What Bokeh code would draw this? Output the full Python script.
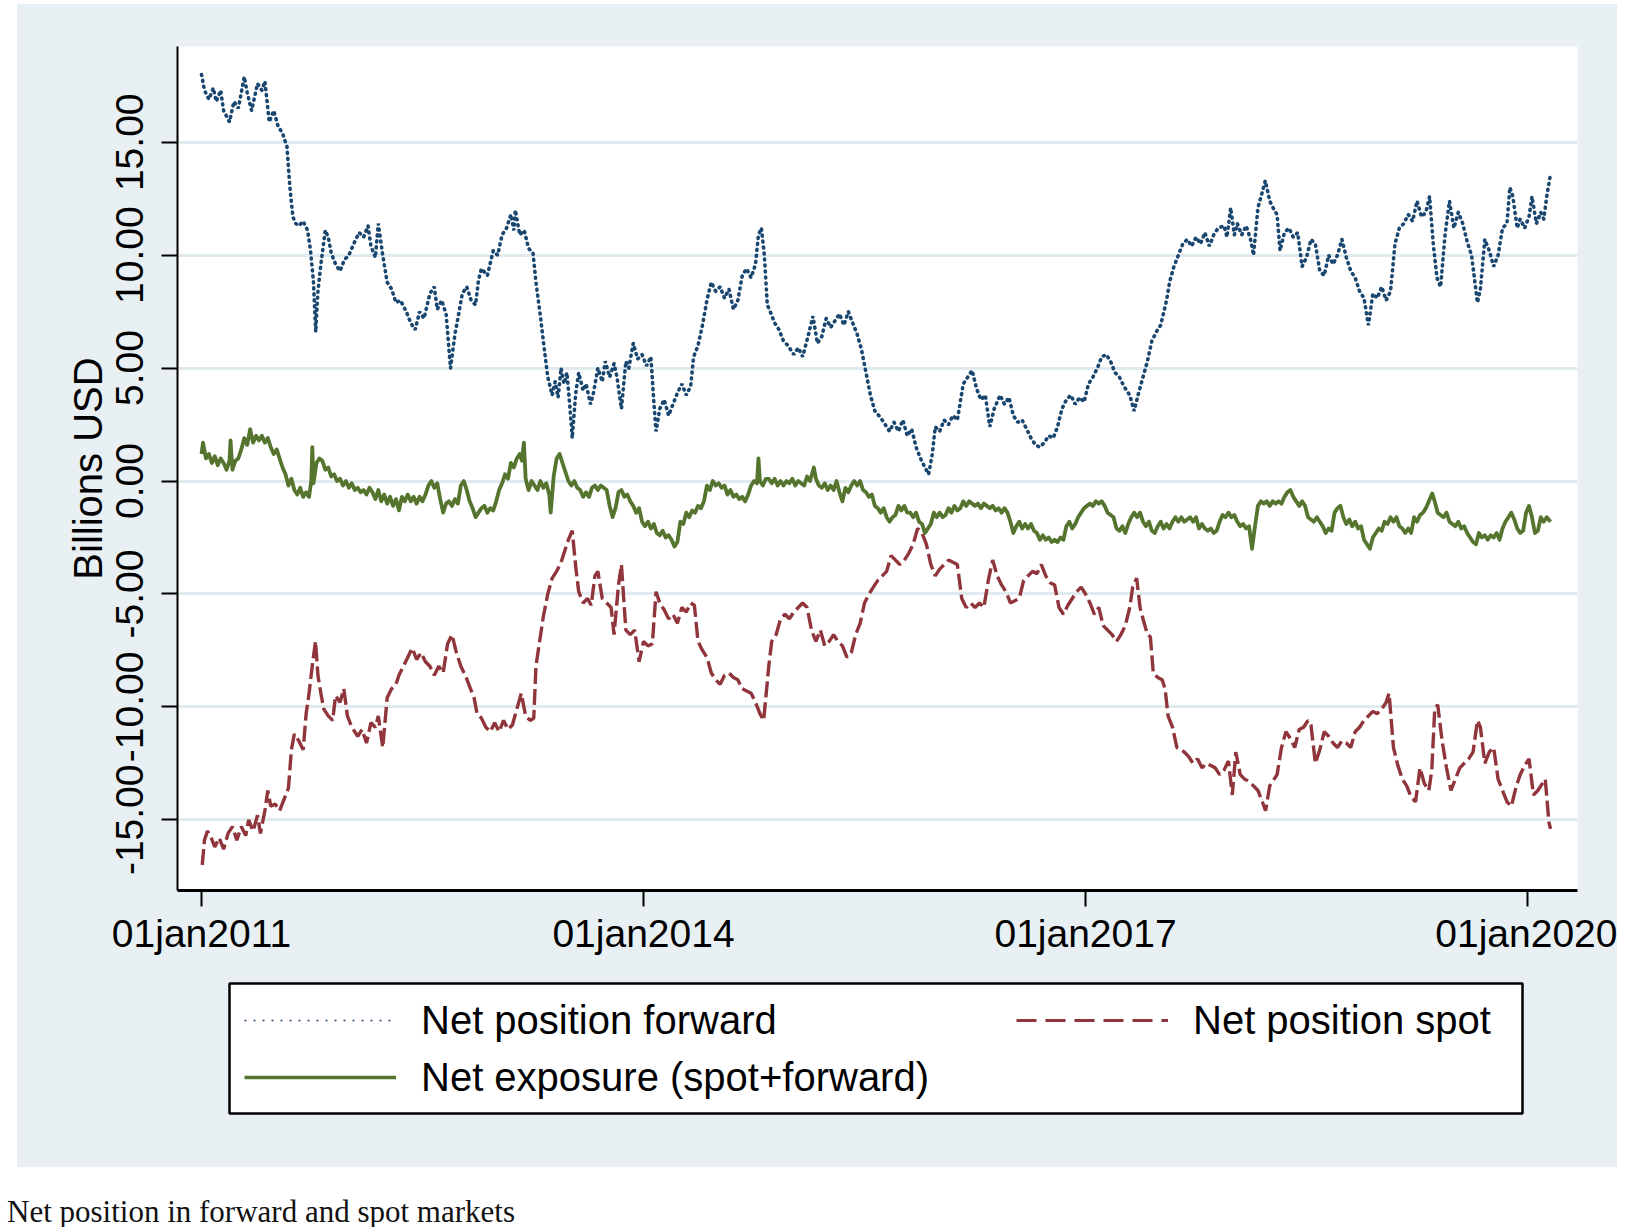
from bokeh.plotting import figure
from bokeh.models import Range1d, FixedTicker, ColumnDataSource, Legend, LegendItem, BoxAnnotation, Div
from bokeh.layouts import column
from bokeh.embed import file_html
from bokeh.resources import INLINE

# ---------------- data (time in decimal years) ----------------
fwd_t = [
    2011.00, 2011.02, 2011.05, 2011.08, 2011.10, 2011.13, 2011.15, 2011.19, 2011.22, 2011.25,
    2011.29, 2011.31, 2011.34, 2011.38, 2011.41, 2011.43, 2011.46, 2011.49, 2011.52, 2011.55,
    2011.58, 2011.60, 2011.62, 2011.64, 2011.66, 2011.69, 2011.72, 2011.74, 2011.76, 2011.775,
    2011.79, 2011.81, 2011.84, 2011.86, 2011.88, 2011.91, 2011.94, 2011.97,
    2012.00, 2012.04, 2012.07, 2012.10, 2012.13, 2012.15, 2012.18, 2012.20, 2012.23, 2012.26,
    2012.29, 2012.32, 2012.35, 2012.39, 2012.42, 2012.45, 2012.48, 2012.51, 2012.55, 2012.58,
    2012.60, 2012.63, 2012.66, 2012.69, 2012.72, 2012.74, 2012.77, 2012.80, 2012.83, 2012.86,
    2012.88, 2012.90, 2012.94, 2012.98,
    2013.01, 2013.04, 2013.07, 2013.10, 2013.12, 2013.13, 2013.16, 2013.19, 2013.22, 2013.25,
    2013.27, 2013.30, 2013.32, 2013.35, 2013.38, 2013.40, 2013.42, 2013.44, 2013.46, 2013.48,
    2013.50, 2013.516, 2013.54, 2013.56, 2013.59, 2013.61, 2013.64, 2013.66, 2013.69, 2013.72,
    2013.74, 2013.77, 2013.80, 2013.82, 2013.85, 2013.88, 2013.90, 2013.93, 2013.96, 2013.99,
    2014.02, 2014.05, 2014.07, 2014.085, 2014.11, 2014.14, 2014.17, 2014.20, 2014.23, 2014.26,
    2014.29, 2014.32, 2014.34, 2014.37, 2014.40, 2014.43, 2014.46, 2014.49, 2014.52, 2014.55,
    2014.58, 2014.61, 2014.64, 2014.67, 2014.70, 2014.73, 2014.76, 2014.78, 2014.80, 2014.82,
    2014.84, 2014.86, 2014.89, 2014.92, 2014.95, 2014.98,
    2015.02, 2015.05, 2015.08, 2015.12, 2015.15, 2015.18, 2015.21, 2015.24, 2015.27, 2015.30,
    2015.33, 2015.36, 2015.39, 2015.42, 2015.45, 2015.48, 2015.51, 2015.54, 2015.57, 2015.61,
    2015.64, 2015.67, 2015.70, 2015.73, 2015.76, 2015.79, 2015.82, 2015.85, 2015.88, 2015.91,
    2015.935, 2015.96, 2015.98,
    2016.01, 2016.04, 2016.07, 2016.10, 2016.13, 2016.17, 2016.20, 2016.23, 2016.26, 2016.29,
    2016.32, 2016.35, 2016.38, 2016.42, 2016.45, 2016.48, 2016.51, 2016.54, 2016.57, 2016.60,
    2016.63, 2016.66, 2016.69, 2016.72, 2016.75, 2016.78, 2016.81, 2016.84, 2016.87, 2016.90,
    2016.93, 2016.96, 2016.99,
    2017.02, 2017.05, 2017.08, 2017.11, 2017.14, 2017.17, 2017.20, 2017.23, 2017.26, 2017.30,
    2017.33, 2017.36, 2017.39, 2017.42, 2017.45, 2017.48, 2017.51, 2017.55, 2017.57, 2017.60,
    2017.63, 2017.66, 2017.69, 2017.72, 2017.75, 2017.78, 2017.81, 2017.84, 2017.87, 2017.90,
    2017.94, 2017.96, 2017.985,
    2018.01, 2018.03, 2018.06, 2018.09, 2018.12, 2018.14, 2018.17, 2018.20, 2018.22, 2018.25,
    2018.28, 2018.30, 2018.32, 2018.35, 2018.38, 2018.41, 2018.44, 2018.47, 2018.50, 2018.53,
    2018.56, 2018.59, 2018.62, 2018.65, 2018.68, 2018.71, 2018.74, 2018.77, 2018.80, 2018.83,
    2018.86, 2018.89, 2018.92, 2018.95, 2018.98,
    2019.01, 2019.04, 2019.07, 2019.10, 2019.13, 2019.16, 2019.19, 2019.22, 2019.25, 2019.28,
    2019.31, 2019.335, 2019.36, 2019.385, 2019.41, 2019.44, 2019.47, 2019.50, 2019.53, 2019.56,
    2019.59, 2019.62, 2019.66, 2019.68, 2019.71, 2019.74, 2019.77, 2019.80, 2019.83, 2019.86,
    2019.88, 2019.90, 2019.93, 2019.95, 2019.98,
    2020.01, 2020.03, 2020.06, 2020.09, 2020.11, 2020.13, 2020.156,
]
fwd_v = [
    18.0, 17.3, 16.9, 17.4, 16.8, 17.3, 16.4, 15.9, 16.8, 16.5,
    17.9, 17.2, 16.4, 17.6, 17.3, 17.7, 15.9, 16.4, 15.7, 15.4,
    14.8, 13.0, 11.7, 11.4, 11.3, 11.5, 11.1, 10.2, 8.8, 6.6,
    8.4, 9.6, 11.1, 10.8, 10.1, 9.6, 9.3, 9.8,
    10.0, 10.6, 11.0, 10.8, 11.3, 10.4, 9.9, 11.4, 10.0, 8.8,
    8.5, 7.9, 8.0, 7.5, 7.0, 6.7, 7.5, 7.2, 8.3, 8.6,
    7.6, 8.0, 7.4, 5.0, 6.5, 7.2, 8.3, 8.6, 8.0, 7.8,
    8.9, 9.4, 9.1, 10.2,
    10.0, 10.9, 11.2, 11.8, 11.1, 12.0, 10.9, 11.1, 10.3, 10.1,
    8.8, 7.3, 6.2, 4.6, 3.8, 4.4, 3.7, 5.0, 4.3, 4.8,
    3.3, 1.9, 3.9, 4.8, 4.0, 4.3, 3.4, 3.9, 5.0, 4.4,
    5.3, 4.6, 5.2, 4.6, 3.2, 5.3, 5.0, 6.1, 5.4, 5.6,
    5.1, 5.5, 3.5, 2.2, 3.2, 3.6, 2.9, 3.4, 3.9, 4.3,
    3.8, 4.2, 5.5, 6.0, 6.9, 8.0, 8.8, 8.4, 8.6, 8.1,
    8.5, 7.6, 8.0, 9.1, 9.4, 9.0, 9.6, 10.9, 11.2, 10.0,
    7.8, 7.5, 7.0, 6.7, 6.2, 6.0,
    5.6, 5.9, 5.5, 6.5, 7.3, 6.1, 6.4, 7.2, 6.8, 7.1,
    7.4, 6.9, 7.5, 7.0, 6.5, 5.8, 4.8, 3.8, 3.1, 2.8,
    2.5, 2.2, 2.6, 2.2, 2.7, 2.0, 2.3, 1.5, 1.0, 0.6,
    0.3, 1.2, 2.4,
    2.2, 2.7, 2.5, 2.9, 2.7, 4.3, 4.6, 4.9, 4.1, 3.6,
    3.8, 2.4, 3.2, 3.8, 3.4, 3.7, 2.9, 2.6, 2.7, 2.3,
    1.9, 1.6, 1.5, 1.7, 2.0, 1.9, 2.4, 3.2, 3.6, 3.8,
    3.4, 3.7, 3.5,
    4.3, 4.6, 5.0, 5.5, 5.6, 5.3, 4.8, 4.6, 4.2, 3.8,
    3.1, 3.9, 4.6, 5.3, 6.2, 6.6, 6.9, 8.0, 8.8, 9.5,
    10.0, 10.5, 10.7, 10.4, 10.8, 10.5, 11.0, 10.4, 10.9, 11.2,
    11.3, 10.8, 12.1,
    10.9, 11.4, 10.9, 11.3, 10.7, 10.0, 12.1, 12.8, 13.3, 12.4,
    12.0, 11.8, 10.2, 11.0, 11.2, 10.8, 11.0, 9.5, 9.9, 10.7,
    10.5, 9.3, 9.1, 10.0, 9.6, 10.0, 10.7, 9.9, 9.3, 9.0,
    8.4, 8.1, 6.9, 8.3, 8.1,
    8.6, 8.0, 8.4, 10.5, 11.2, 11.4, 11.8, 11.5, 12.4, 11.7,
    11.9, 12.6, 10.5, 9.0, 8.6, 10.9, 12.4, 11.2, 11.9, 11.4,
    10.6, 10.0, 7.9, 8.5, 10.7, 10.2, 9.5, 10.0, 11.2, 11.4,
    13.0, 12.6, 11.2, 11.6, 11.2,
    11.7, 12.6, 11.4, 11.9, 11.6, 12.6, 13.6,
]

spot_t = [
    2011.005, 2011.02, 2011.04, 2011.06, 2011.09, 2011.12, 2011.15, 2011.18, 2011.21, 2011.24,
    2011.27, 2011.30, 2011.32, 2011.35, 2011.38, 2011.40, 2011.43, 2011.45, 2011.47, 2011.50,
    2011.53, 2011.56, 2011.59, 2011.61, 2011.63, 2011.66, 2011.69, 2011.71, 2011.73, 2011.755,
    2011.774, 2011.79, 2011.81, 2011.83, 2011.86, 2011.89, 2011.91, 2011.94, 2011.966, 2011.99,
    2012.02, 2012.06, 2012.09, 2012.12, 2012.15, 2012.18, 2012.20, 2012.23, 2012.26, 2012.29,
    2012.32, 2012.34, 2012.37, 2012.40, 2012.43, 2012.46, 2012.49, 2012.52, 2012.55, 2012.58,
    2012.61, 2012.64, 2012.67, 2012.70, 2012.73, 2012.76, 2012.79, 2012.82, 2012.85, 2012.87,
    2012.90, 2012.93, 2012.96, 2012.99,
    2013.02, 2013.05, 2013.08, 2013.11, 2013.14, 2013.17, 2013.20, 2013.23, 2013.255, 2013.27,
    2013.29, 2013.32, 2013.35, 2013.38, 2013.41, 2013.44, 2013.47, 2013.49, 2013.516, 2013.54,
    2013.56, 2013.59, 2013.62, 2013.645, 2013.67, 2013.69, 2013.72, 2013.75, 2013.78, 2013.80,
    2013.83, 2013.85, 2013.88, 2013.91, 2013.94, 2013.97,
    2014.00, 2014.03, 2014.06, 2014.085, 2014.11, 2014.14, 2014.17, 2014.20, 2014.23, 2014.26,
    2014.29, 2014.32, 2014.345, 2014.37, 2014.40, 2014.43, 2014.46, 2014.49, 2014.52, 2014.55,
    2014.58, 2014.61, 2014.64, 2014.67, 2014.70, 2014.73, 2014.76, 2014.79, 2014.815, 2014.83,
    2014.85, 2014.87, 2014.90, 2014.93, 2014.96, 2014.99,
    2015.02, 2015.05, 2015.08, 2015.11, 2015.14, 2015.17, 2015.20, 2015.23, 2015.26, 2015.29,
    2015.32, 2015.35, 2015.38, 2015.41, 2015.44, 2015.47, 2015.50, 2015.53, 2015.56, 2015.59,
    2015.62, 2015.65, 2015.68, 2015.71, 2015.74, 2015.77, 2015.80, 2015.83, 2015.86, 2015.89,
    2015.92, 2015.95, 2015.98,
    2016.01, 2016.04, 2016.07, 2016.10, 2016.13, 2016.16, 2016.19, 2016.22, 2016.25, 2016.28,
    2016.31, 2016.34, 2016.37, 2016.40, 2016.43, 2016.46, 2016.49, 2016.52, 2016.55, 2016.58,
    2016.61, 2016.64, 2016.67, 2016.70, 2016.73, 2016.76, 2016.79, 2016.82, 2016.85, 2016.88,
    2016.91, 2016.94, 2016.97,
    2017.00, 2017.03, 2017.06, 2017.09, 2017.12, 2017.15, 2017.18, 2017.21, 2017.24, 2017.27,
    2017.30, 2017.32, 2017.347, 2017.37, 2017.39, 2017.42, 2017.44, 2017.46, 2017.49, 2017.52,
    2017.54, 2017.56, 2017.59, 2017.62, 2017.65, 2017.67, 2017.70, 2017.73, 2017.76, 2017.79,
    2017.82, 2017.85, 2017.88, 2017.91, 2017.94, 2017.97, 2017.996,
    2018.02, 2018.05, 2018.08, 2018.11, 2018.14, 2018.17, 2018.20, 2018.222, 2018.25, 2018.28,
    2018.30, 2018.33, 2018.36, 2018.39, 2018.42, 2018.45, 2018.48, 2018.51, 2018.53, 2018.56,
    2018.59, 2018.62, 2018.65, 2018.68, 2018.71, 2018.74, 2018.77, 2018.80, 2018.83, 2018.86,
    2018.89, 2018.92, 2018.95, 2018.98,
    2019.01, 2019.04, 2019.06, 2019.09, 2019.12, 2019.15, 2019.18, 2019.21, 2019.24, 2019.27,
    2019.30, 2019.33, 2019.35, 2019.37, 2019.39, 2019.42, 2019.45, 2019.48, 2019.51, 2019.54,
    2019.57, 2019.60, 2019.63, 2019.66, 2019.68, 2019.71, 2019.74, 2019.77, 2019.80, 2019.83,
    2019.86, 2019.89, 2019.92, 2019.95, 2019.98,
    2020.01, 2020.04, 2020.07, 2020.10, 2020.12, 2020.145, 2020.156,
]
spot_v = [
    -17.0, -15.9, -15.5, -15.7, -16.2, -15.8, -16.3, -15.6, -15.3, -15.9,
    -15.3, -15.7, -15.0, -15.5, -14.8, -15.6, -14.6, -13.7, -14.4, -14.3,
    -14.6, -14.1, -13.6, -11.9, -11.2, -11.5, -11.9, -10.3, -9.4, -8.0,
    -7.1, -8.6, -9.4, -10.1, -10.4, -10.6, -9.5, -9.8, -9.2, -10.4,
    -10.9, -11.3, -11.0, -11.6, -10.7, -10.9, -10.4, -11.8, -9.6, -9.2,
    -9.0, -8.6, -8.2, -7.8, -7.4, -7.9, -7.6, -8.0, -8.2, -8.6,
    -8.2, -8.5, -7.2, -6.8, -7.6, -8.2, -8.6, -9.1, -9.6, -10.3,
    -10.5, -10.9, -11.1, -10.7,
    -11.1, -10.6, -11.0, -10.8, -10.1, -9.4, -10.4, -10.6, -10.5, -8.2,
    -7.3, -6.0, -5.0, -4.3, -4.0, -3.6, -3.0, -2.6, -2.2, -3.8,
    -4.9, -5.4, -5.2, -5.5, -4.2, -4.0, -5.2, -5.4, -5.6, -6.8,
    -4.6, -3.7, -6.6, -6.8, -6.6, -8.0,
    -7.1, -7.3, -7.2, -4.9, -5.4, -5.7, -6.1, -5.9, -6.3, -5.6,
    -5.8, -5.4, -5.5, -7.1, -7.5, -7.8, -8.5, -8.8, -9.0, -8.6,
    -8.5, -8.7, -8.8, -9.2, -9.3, -9.4, -9.8, -10.3, -10.6, -9.6,
    -8.2, -7.1, -6.8, -6.1, -5.9, -6.1,
    -5.8, -5.6, -5.4, -5.6, -6.6, -7.1, -6.6, -7.3, -7.1, -6.8,
    -7.1, -7.3, -7.8, -7.6, -6.8, -6.3, -5.4, -5.0, -4.7, -4.4,
    -4.2, -4.0, -3.3, -3.5, -3.7, -3.5, -3.2, -2.8, -2.1, -2.3,
    -2.8, -3.7, -4.2,
    -3.9, -3.7, -3.5, -3.6, -3.7, -5.2, -5.6, -5.4, -5.6, -5.4,
    -5.6, -4.4, -3.5, -4.2, -4.6, -4.9, -5.4, -5.3, -5.2, -4.4,
    -4.2, -4.0, -4.1, -3.7, -4.2, -4.5, -4.6, -5.6, -5.9, -5.5,
    -5.2, -4.9, -4.7,
    -5.0, -5.4, -5.9, -5.6, -6.4, -6.6, -6.8, -7.1, -6.8, -6.4,
    -5.6, -4.7, -4.3, -5.6, -6.1, -6.8, -6.9, -8.5, -8.7, -8.8,
    -9.2, -10.4, -10.9, -11.8, -11.9, -12.0, -12.2, -12.5, -12.3, -12.7,
    -12.5, -12.6, -12.7, -13.0, -12.8, -12.4, -13.9,
    -12.0, -13.0, -13.2, -13.3, -13.5, -13.7, -14.2, -14.6, -13.5, -13.2,
    -13.0, -11.8, -11.1, -11.4, -11.8, -11.0, -10.9, -10.6, -10.8, -12.5,
    -11.9, -11.1, -11.3, -11.6, -11.8, -11.5, -11.6, -11.8, -11.1, -10.9,
    -10.6, -10.4, -10.2, -10.3,
    -10.1, -9.8, -9.4, -11.8, -12.6, -13.2, -13.5, -14.0, -14.2, -12.7,
    -13.4, -13.7, -12.8, -10.1, -9.9, -11.5, -12.7, -13.7, -13.2, -12.7,
    -12.5, -12.3, -12.0, -10.6, -10.9, -12.5, -12.0, -11.8, -13.2, -13.7,
    -14.2, -14.4, -13.6, -13.0, -12.6,
    -12.3, -13.9, -13.7, -13.4, -13.2, -15.1, -15.4,
]

expo_t = [
    2011.00, 2011.01, 2011.03, 2011.05, 2011.07, 2011.09, 2011.11, 2011.13, 2011.15, 2011.17,
    2011.19, 2011.197, 2011.21, 2011.23, 2011.25, 2011.27, 2011.29, 2011.31, 2011.33, 2011.35,
    2011.37, 2011.39, 2011.41, 2011.43, 2011.45, 2011.47, 2011.49, 2011.51, 2011.53, 2011.55,
    2011.57, 2011.59, 2011.61, 2011.63, 2011.65, 2011.67, 2011.69, 2011.71, 2011.73, 2011.745,
    2011.752, 2011.76, 2011.78, 2011.80, 2011.82, 2011.84, 2011.86, 2011.88, 2011.90, 2011.92,
    2011.94, 2011.96, 2011.98,
    2012.00, 2012.02, 2012.04, 2012.06, 2012.08, 2012.10, 2012.12, 2012.14, 2012.16, 2012.18,
    2012.20, 2012.22, 2012.24, 2012.26, 2012.28, 2012.30, 2012.32, 2012.34, 2012.36, 2012.38,
    2012.40, 2012.42, 2012.44, 2012.46, 2012.48, 2012.50, 2012.52, 2012.54, 2012.56, 2012.58,
    2012.60, 2012.62, 2012.64, 2012.66, 2012.68, 2012.70, 2012.72, 2012.74, 2012.76, 2012.78,
    2012.80, 2012.82, 2012.84, 2012.86, 2012.88, 2012.90, 2012.92, 2012.94, 2012.96, 2012.98,
    2013.00, 2013.02, 2013.04, 2013.06, 2013.08, 2013.10, 2013.12, 2013.14, 2013.16, 2013.175,
    2013.188, 2013.20, 2013.22, 2013.24, 2013.26, 2013.28, 2013.30, 2013.32, 2013.34, 2013.36,
    2013.37, 2013.39, 2013.41, 2013.43, 2013.45, 2013.47, 2013.49, 2013.51, 2013.53, 2013.55,
    2013.57, 2013.59, 2013.61, 2013.63, 2013.65, 2013.67, 2013.69, 2013.71, 2013.73, 2013.75,
    2013.77, 2013.79, 2013.81, 2013.83, 2013.85, 2013.87, 2013.89, 2013.91, 2013.93, 2013.95,
    2013.97, 2013.99,
    2014.01, 2014.03, 2014.05, 2014.07, 2014.09, 2014.11, 2014.13, 2014.15, 2014.17, 2014.19,
    2014.21, 2014.23, 2014.25, 2014.27, 2014.29, 2014.31, 2014.33, 2014.35, 2014.37, 2014.39,
    2014.41, 2014.43, 2014.45, 2014.47, 2014.49, 2014.51, 2014.53, 2014.55, 2014.57, 2014.59,
    2014.61, 2014.63, 2014.65, 2014.67, 2014.69, 2014.71, 2014.73, 2014.75, 2014.77, 2014.78,
    2014.79, 2014.81, 2014.83, 2014.85, 2014.87, 2014.89, 2014.91, 2014.93, 2014.95, 2014.97,
    2014.99,
    2015.01, 2015.03, 2015.05, 2015.07, 2015.09, 2015.11, 2015.13, 2015.156, 2015.17, 2015.19,
    2015.21, 2015.23, 2015.25, 2015.27, 2015.29, 2015.31, 2015.33, 2015.35, 2015.37, 2015.39,
    2015.41, 2015.43, 2015.45, 2015.47, 2015.49, 2015.51, 2015.53, 2015.55, 2015.57, 2015.59,
    2015.61, 2015.63, 2015.65, 2015.67, 2015.69, 2015.71, 2015.73, 2015.75, 2015.77, 2015.79,
    2015.81, 2015.83, 2015.85, 2015.87, 2015.89, 2015.91, 2015.93, 2015.95, 2015.97, 2015.99,
    2016.01, 2016.03, 2016.05, 2016.07, 2016.09, 2016.11, 2016.13, 2016.15, 2016.17, 2016.19,
    2016.21, 2016.23, 2016.25, 2016.27, 2016.29, 2016.31, 2016.33, 2016.35, 2016.37, 2016.39,
    2016.41, 2016.43, 2016.45, 2016.47, 2016.49, 2016.51, 2016.53, 2016.55, 2016.57, 2016.59,
    2016.61, 2016.63, 2016.65, 2016.67, 2016.69, 2016.71, 2016.73, 2016.75, 2016.77, 2016.79,
    2016.81, 2016.83, 2016.85, 2016.87, 2016.89, 2016.91, 2016.93, 2016.95, 2016.97, 2016.99,
    2017.01, 2017.03, 2017.05, 2017.07, 2017.09, 2017.11, 2017.13, 2017.15, 2017.17, 2017.19,
    2017.21, 2017.23, 2017.25, 2017.27, 2017.29, 2017.31, 2017.33, 2017.35, 2017.37, 2017.39,
    2017.41, 2017.43, 2017.45, 2017.47, 2017.49, 2017.51, 2017.53, 2017.55, 2017.57, 2017.59,
    2017.61, 2017.63, 2017.65, 2017.67, 2017.69, 2017.71, 2017.73, 2017.75, 2017.77, 2017.79,
    2017.81, 2017.83, 2017.85, 2017.87, 2017.89, 2017.91, 2017.93, 2017.95, 2017.97, 2017.99,
    2018.01, 2018.03, 2018.05, 2018.07, 2018.09, 2018.11, 2018.13, 2018.15, 2018.17, 2018.19,
    2018.21, 2018.23, 2018.25, 2018.27, 2018.29, 2018.31, 2018.33, 2018.35, 2018.37, 2018.39,
    2018.41, 2018.43, 2018.45, 2018.47, 2018.49, 2018.51, 2018.53, 2018.55, 2018.57, 2018.59,
    2018.61, 2018.63, 2018.65, 2018.67, 2018.69, 2018.71, 2018.73, 2018.75, 2018.77, 2018.79,
    2018.81, 2018.83, 2018.85, 2018.87, 2018.89, 2018.91, 2018.93, 2018.95, 2018.97, 2018.99,
    2019.01, 2019.03, 2019.05, 2019.07, 2019.09, 2019.11, 2019.13, 2019.15, 2019.17, 2019.19,
    2019.21, 2019.23, 2019.25, 2019.27, 2019.29, 2019.31, 2019.33, 2019.353, 2019.37, 2019.39,
    2019.41, 2019.43, 2019.45, 2019.47, 2019.49, 2019.51, 2019.53, 2019.55, 2019.57, 2019.59,
    2019.61, 2019.63, 2019.65, 2019.67, 2019.69, 2019.71, 2019.73, 2019.75, 2019.77, 2019.79,
    2019.81, 2019.83, 2019.85, 2019.87, 2019.89, 2019.91, 2019.93, 2019.95, 2019.97, 2019.99,
    2020.01, 2020.03, 2020.05, 2020.07, 2020.09, 2020.11, 2020.13, 2020.156,
]
expo_v = [
    1.2, 1.7, 1.0, 1.2, 0.8, 1.1, 0.7, 1.0, 0.8, 0.5,
    0.9, 1.8, 0.5, 0.9, 1.0, 1.4, 1.9, 1.6, 2.3, 1.7,
    2.0, 1.8, 2.0, 1.7, 1.9, 1.5, 1.2, 1.4, 1.0, 0.6,
    0.3, -0.2, 0.1, -0.4, -0.6, -0.3, -0.7, -0.5, -0.7, 0.0,
    1.5, -0.1, 0.8, 1.0, 0.9, 0.5, 0.6, 0.2, 0.3, 0.0,
    0.1, -0.2, 0.0,
    -0.3, -0.1, -0.4, -0.3, -0.5, -0.4, -0.6, -0.3, -0.5, -0.8,
    -0.4, -0.9, -0.6, -1.0, -0.7, -1.1, -0.8, -1.3, -0.7, -0.9,
    -0.6, -0.9, -0.7, -1.0, -0.7, -0.9, -0.6, -0.2, 0.0, -0.3,
    -0.1, -0.8, -1.4, -1.0, -0.9, -1.1, -0.8, -1.0, -0.2, 0.0,
    -0.4, -0.9, -1.2, -1.6, -1.4, -1.2, -1.1, -1.4, -1.2, -1.3,
    -0.9, -0.4, -0.1, 0.3, 0.1, 0.8, 0.6, 1.0, 1.2, 0.9,
    1.7, 0.1, -0.4, 0.0, -0.2, -0.4, 0.0, -0.3, -0.1, -0.6,
    -1.4, 0.2, 1.0, 1.2, 0.8, 0.4, 0.0, -0.2, 0.0, -0.3,
    -0.4, -0.7, -0.5, -0.7, -0.3, -0.2, -0.4, -0.2, -0.3, -0.4,
    -1.1, -1.6, -1.2, -0.5, -0.4, -0.7, -0.6, -0.9, -1.1, -1.4,
    -1.2, -1.8,
    -2.0, -1.8, -2.1, -1.9, -2.3, -2.4, -2.2, -2.5, -2.4, -2.6,
    -2.9, -2.7, -1.8, -1.9, -1.4, -1.6, -1.3, -1.4, -1.1, -1.2,
    -0.9, -0.2, -0.4, 0.0, -0.2, -0.1, -0.3, -0.2, -0.6, -0.4,
    -0.7, -0.6, -0.8, -0.7, -0.9, -0.6, -0.2, 0.0, -0.1, 1.0,
    0.0, -0.2, 0.1, 0.1, -0.1, 0.1, -0.2, 0.0, -0.2, 0.0,
    -0.1,
    0.1, -0.2, 0.0, -0.1, -0.2, 0.2, 0.0, 0.6, 0.1, -0.2,
    -0.3, -0.1, -0.4, -0.2, -0.4, 0.0, -0.5, -0.9, -0.3, -0.5,
    -0.2, 0.0, -0.2, 0.0, -0.4, -0.5, -0.7, -0.6, -1.1, -1.2,
    -1.4, -1.2, -1.6, -1.8, -1.6, -1.5, -1.1, -1.3, -1.1, -1.4,
    -1.4, -1.6, -1.4, -1.8, -1.9, -2.3, -2.1, -1.9, -1.4, -1.6,
    -1.4, -1.6, -1.5, -1.2, -1.4, -1.1, -1.3, -1.2, -0.9, -1.1,
    -0.9, -1.0, -1.1, -1.0, -1.2, -1.0, -1.1, -1.2, -1.1, -1.3,
    -1.2, -1.4, -1.2, -1.4, -1.8, -2.3, -2.0, -1.8, -2.1, -1.9,
    -2.1, -1.9, -2.2, -2.3, -2.6, -2.4, -2.6, -2.5, -2.7, -2.6,
    -2.7, -2.5, -2.6, -2.0, -1.8, -2.1, -1.9, -1.6, -1.4, -1.2,
    -1.1, -1.0, -1.1, -0.9, -1.0, -0.9, -1.1, -1.4, -1.5, -1.6,
    -2.1, -2.2, -2.0, -2.3, -1.9, -1.6, -1.4, -1.6, -1.4, -1.8,
    -2.0, -1.8, -2.2, -2.3, -2.0, -1.8, -2.1, -1.9, -2.1, -1.8,
    -1.6, -1.8, -1.6, -1.8, -1.7, -1.6, -1.8, -1.6, -2.1, -1.9,
    -2.1, -2.2, -2.1, -2.3, -2.2, -1.8, -1.5, -1.6, -1.4, -1.6,
    -1.5, -1.8, -2.0, -1.9, -2.1, -2.0, -3.0, -2.0, -1.1, -0.9,
    -1.0, -0.9, -1.1, -0.9, -1.0, -0.9, -1.0, -0.7, -0.5, -0.4,
    -0.7, -0.9, -1.1, -0.9, -1.1, -1.6, -1.7, -1.8, -1.6, -1.8,
    -2.0, -2.3, -2.1, -2.2, -1.4, -1.2, -1.1, -1.6, -1.9, -1.7,
    -2.0, -1.8, -2.1, -2.0, -2.6, -2.8, -3.0, -2.5, -2.3, -2.1,
    -2.2, -1.8, -1.9, -1.6, -1.8, -1.6, -2.0, -2.1, -2.3, -2.1,
    -2.3, -1.6, -1.8, -1.5, -1.4, -1.2, -0.9, -0.55, -0.9, -1.4,
    -1.5, -1.6, -1.4, -1.8, -1.9, -2.0, -1.8, -2.1, -2.0, -2.3,
    -2.5, -2.7, -2.8, -2.3, -2.5, -2.4, -2.6, -2.4, -2.5, -2.3,
    -2.6, -2.1, -1.8, -1.6, -1.4, -1.7, -2.1, -2.3, -2.2, -1.4,
    -1.1, -1.6, -2.3, -2.2, -1.6, -1.8, -1.6, -1.8,
]

series_labels = ["Net position forward", "Net position spot", "Net exposure (spot+forward)"]
x_ticks = [2011, 2014, 2017, 2020]
x_labels = ["01jan2011", "01jan2014", "01jan2017", "01jan2020"]
y_ticks = [-15, -10, -5, 0, 5, 10, 15]
y_labels = ["-15.00", "-10.00", "-5.00", "0.00", "5.00", "10.00", "15.00"]
y_title = "Billions USD"
caption = "Net position in forward and spot markets"

for a, b in ((fwd_t, fwd_v), (spot_t, spot_v), (expo_t, expo_v)):
    assert len(a) == len(b), (len(a), len(b))

# ---------------- styling ----------------
BG = "#E9F0F3"
GRID = "#E1EBEF"
NAVY = "#1A476F"
MAROON = "#90353B"
GREEN = "#55752F"
FONT = "Liberation Sans"

# ---------------- main plot (page x 17..1617, y 4..962) ----------------
p = figure(width=1600, height=958,
           x_range=Range1d(2010.837, 2020.339), y_range=Range1d(-18.13, 19.24),
           output_backend="svg", toolbar_location=None,
           min_border_left=160, min_border_right=40, min_border_top=42, min_border_bottom=72,
           background_fill_color="white", border_fill_color=BG, outline_line_color=None)

p.line(x="t", y="v", source=ColumnDataSource(dict(t=fwd_t, v=fwd_v)),
       line_color=NAVY, line_width=3.6, line_dash="1 5", line_cap="round")
p.line(x="t", y="v", source=ColumnDataSource(dict(t=spot_t, v=spot_v)),
       line_color=MAROON, line_width=3.4, line_dash="16 5")
p.line(x="t", y="v", source=ColumnDataSource(dict(t=expo_t, v=expo_v)),
       line_color=GREEN, line_width=3.8, line_join="round")

xa = p.xaxis[0]
xa.ticker = FixedTicker(ticks=x_ticks)
xa.major_label_overrides = dict(zip(x_ticks, x_labels))
xa.major_label_text_font = FONT
xa.major_label_text_font_size = "39px"
xa.major_label_text_color = "black"
xa.major_tick_out = 16
xa.major_tick_in = 0
xa.minor_tick_out = 0
xa.minor_tick_in = 0
xa.major_tick_line_width = 2
xa.axis_line_width = 3
xa.major_label_standoff = 5

ya = p.yaxis[0]
ya.ticker = FixedTicker(ticks=y_ticks)
ya.major_label_overrides = dict(zip(y_ticks, y_labels))
ya.major_label_orientation = "vertical"
ya.major_label_text_font = FONT
ya.major_label_text_font_size = "39px"
ya.major_label_text_color = "black"
ya.major_tick_out = 16
ya.major_tick_in = 0
ya.minor_tick_out = 0
ya.minor_tick_in = 0
ya.major_tick_line_width = 2
ya.axis_line_width = 2
ya.major_label_standoff = 18
ya.axis_label = y_title
ya.axis_label_text_font = FONT
ya.axis_label_text_font_size = "40px"
ya.axis_label_text_font_style = "normal"
ya.axis_label_text_color = "black"
ya.axis_label_standoff = 4

p.xgrid.visible = False
p.ygrid.grid_line_color = GRID
p.ygrid.grid_line_width = 3

# ---------------- legend panel (page y 962..1167), frame aligned with the main plot ----------------
lg = figure(width=1600, height=205, x_range=Range1d(0, 1400), y_range=Range1d(0, 205),
            output_backend="svg", toolbar_location=None,
            x_axis_type=None, y_axis_type=None,
            min_border_left=160, min_border_right=40, min_border_top=0, min_border_bottom=0,
            background_fill_color=BG, border_fill_color=BG, outline_line_color=None)

lg.add_layout(BoxAnnotation(left=52, right=1345, bottom=54, top=184,
                            fill_color="white", fill_alpha=1.0,
                            line_color="black", line_alpha=1.0, line_width=2.5))

r_f = lg.line(x=[-50, -40], y=[-50, -50], line_color=NAVY, line_width=1.6, line_dash="2 7")
r_s = lg.line(x=[-50, -40], y=[-50, -50], line_color=MAROON, line_width=3.2, line_dash="20 9")
r_e = lg.line(x=[-50, -40], y=[-50, -50], line_color=GREEN, line_width=3.4)

common = dict(glyph_width=152, glyph_height=46, label_height=46, label_standoff=25,
              spacing=11, padding=0, margin=0, border_line_color=None,
              background_fill_alpha=0, label_text_font=FONT, label_text_font_size="40px",
              label_text_color="black", orientation="vertical")
leg_a = Legend(items=[LegendItem(label=series_labels[0], renderers=[r_f]),
                      LegendItem(label=series_labels[2], renderers=[r_e])],
               location=(67, 67), **common)
leg_b = Legend(items=[LegendItem(label=series_labels[1], renderers=[r_s])],
               location=(839, 124), **common)
lg.add_layout(leg_a)
lg.add_layout(leg_b)

panel = column(p, lg, spacing=0, margin=(4, 17, 0, 17),
               styles={"background-color": BG})

# ---------------- caption below the panel ----------------
cap = Div(text=caption, width=1634, height=60,
          styles={"font-family": "'Liberation Serif', serif", "font-size": "31px",
                  "line-height": "31px", "white-space": "nowrap", "color": "#111111",
                  "padding-top": "24px", "padding-left": "2px", "box-sizing": "border-box",
                  "overflow": "hidden"})

layout = column(panel, cap, spacing=0)
open("out.html", "w").write(file_html(layout, INLINE))
